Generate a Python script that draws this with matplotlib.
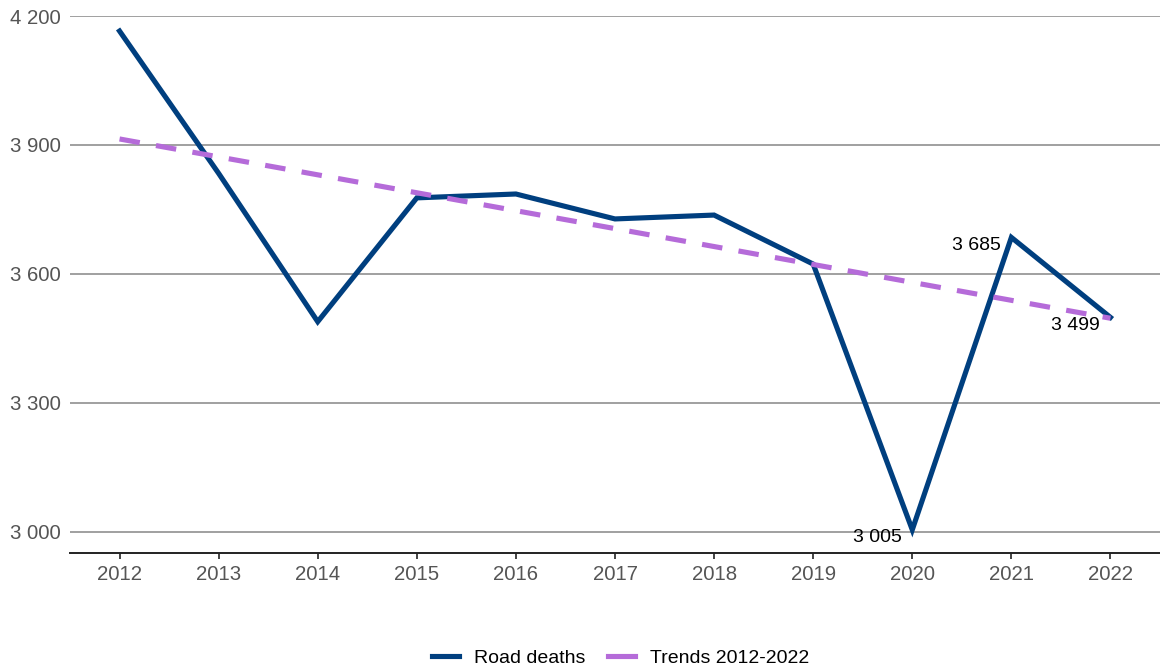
import numpy as np
import matplotlib.pyplot as plt

plt.rcParams['font.family'] = ['Liberation Sans', 'DejaVu Sans']

years = ['2012', '2013', '2014', '2015', '2016', '2017', '2018', '2019', '2020', '2021', '2022']
road_deaths = [4165, 3834, 3489, 3777, 3786, 3728, 3737, 3623, 3005, 3685, 3499]
trend_years = ['2012', '2022']
trend_values = [3914, 3497]
labelled_years = ['2020', '2021', '2022']
yticks = [3000, 3300, 3600, 3900, 4200]


def fmt(v):
    return f"{v:,}".replace(",", " ")


fig = plt.figure(figsize=(11.6, 6.71), dpi=100)
ax = fig.add_axes([70 / 1160, 1 - 553 / 671, 1 - 70 / 1160, (553 - 16) / 671])

x = np.arange(len(years))
ax.plot(x, road_deaths, color='#003f7f', lw=3.7, solid_joinstyle='miter',
        label='Road deaths', zorder=3, clip_on=False)
tx = [years.index(y) for y in trend_years]
ax.plot(tx, trend_values, color='#b56bd9', lw=3.7, dashes=(4, 3.2),
        label='Trends 2012-2022', zorder=4, clip_on=False)

for yr in labelled_years:
    i = years.index(yr)
    ax.annotate(fmt(road_deaths[i]), (i, road_deaths[i]), xytext=(-7.5, 0.5),
                textcoords='offset points', ha='right', va='top',
                fontsize=14, color='black', zorder=5)

ax.set_xlim(-0.5, len(years) - 0.5)
ax.set_ylim(2951, 4200)
ax.set_xticks(x, years)
ax.set_yticks(yticks, [fmt(v) for v in yticks])

ax.grid(axis='y', color='#999999', lw=1.3)
ax.set_axisbelow(True)
for side in ['top', 'right', 'left']:
    ax.spines[side].set_visible(False)
ax.spines['bottom'].set_color('#222222')
ax.spines['bottom'].set_linewidth(1.4)

ax.tick_params(axis='x', length=4, width=1.2, color='#222222', labelsize=14.7,
               labelcolor='#555555', pad=5)
ax.tick_params(axis='y', length=0, labelsize=14.7, labelcolor='#555555', pad=6.5)

handles, labels = ax.get_legend_handles_labels()
leg = fig.legend(handles, labels, loc='center', bbox_to_anchor=(0.535, 1 - 658 / 671),
                 ncol=2, frameon=False, fontsize=14, handlelength=1.35,
                 handletextpad=0.77, columnspacing=1.2)
# short legend keys are drawn as solid swatches
for line in leg.get_lines():
    line.set_linestyle('-')

fig.savefig('out.png', dpi=100)
